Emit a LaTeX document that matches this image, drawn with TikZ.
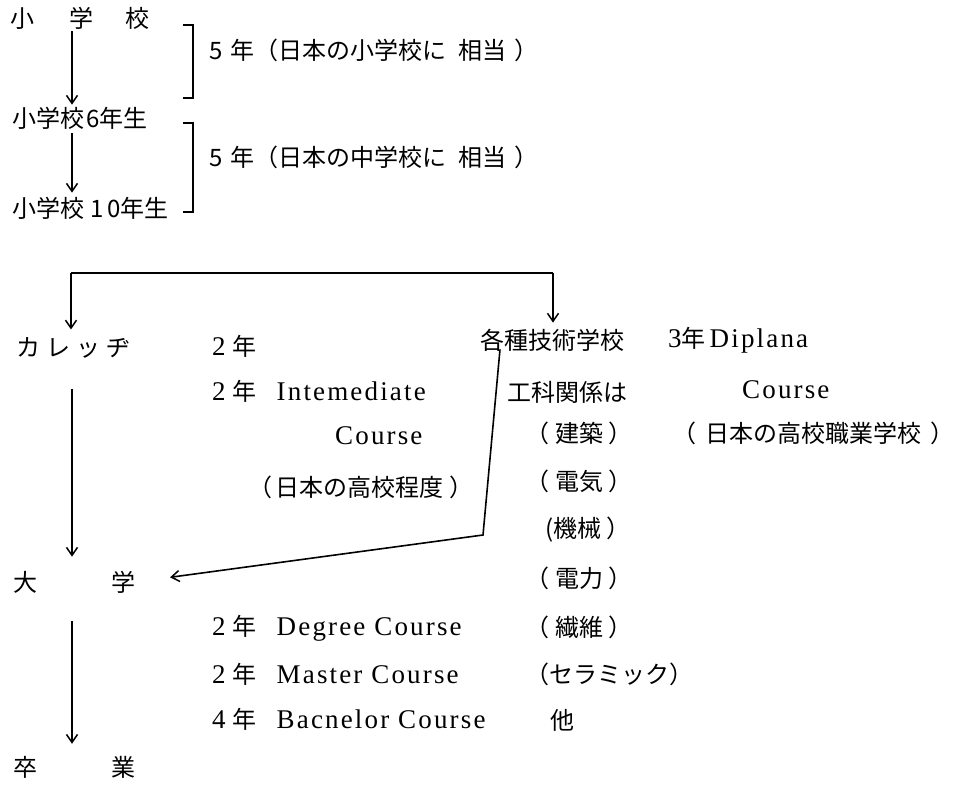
\documentclass[tikz,border=0pt]{standalone}
\usepackage{fontspec}
\setmainfont{Liberation Serif}
\newfontfamily\jp{Noto Sans CJK JP}
\newfontfamily\lat[LetterSpace=8]{Liberation Serif}
\newcommand\la[1]{{\lat\fontsize{27}{27}\selectfont #1}}
\usetikzlibrary{arrows.meta,calc}
\begin{document}
\begin{tikzpicture}[x=1pt,y=-1pt,
  txt/.style={anchor=west,inner sep=0pt,font=\jp\fontsize{24}{24}\selectfont},
  conn/.style={line width=1.6pt,-{Straight Barb[length=8pt,width=11pt,line width=1.5pt]}},
  plain/.style={line width=1.6pt},
  brk/.style={line width=1.6pt}]
\useasboundingbox[fill=white] (0,0) rectangle (961,786);

% upper part
\node[txt] (s1) at (10,18) {小\hspace{35pt}学\hspace{32pt}校};
\node[txt] (s2) at (12,118) {小学校\hspace{2pt}6年生};
\node[txt] (s3) at (12,208) {小学校\hspace{6pt}1\hspace{4pt}0年生};
\coordinate (cx) at (72,0);
\draw[conn] ($(s1.south -| cx)+(0,2)$) -- ($(s2.north -| cx)+(0,-2)$);
\draw[conn] ($(s2.south -| cx)+(0,4)$) -- ($(s3.north -| cx)+(0,-4)$);

\coordinate (b1t) at (193,25);
\coordinate (b1b) at (193,98);
\coordinate (b2t) at (193,123);
\coordinate (b2b) at (193,212);
\draw[brk] ($(b1t)+(-10,0)$) -- (b1t) -- (b1b) -- ($(b1b)+(-10,0)$);
\draw[brk] ($(b2t)+(-10,0)$) -- (b2t) -- (b2b) -- ($(b2b)+(-10,0)$);
\node[txt] (t1) at (209,50) {5\hspace{8pt}年（日本の小学校に\hspace{12pt}相当\hspace{8pt}）};
\node[txt] (t2) at (209,157) {5\hspace{8pt}年（日本の中学校に\hspace{12pt}相当\hspace{8pt}）};

% split
\coordinate (hl) at (71,273);
\coordinate (hr) at (553,273);
\node[txt] (col) at (16,348) {カ\hspace{6pt}レ\hspace{6pt}ッ\hspace{6pt}ヂ};
\node[txt] (tech) at (480,340) {各種技術学校};
\draw[plain] (hl) -- (hr);
\draw[conn] (hl) -- ($(col.north -| hl)+(0,-8)$);
\draw[conn] (hr) -- ($(tech.north -| hr)+(0,-6)$);

% college column
\node[txt] (y2a) at (212,346) {\la{2}\hspace{7pt}年};
\node[txt] (y2b) at (212,391) {\la{2}\hspace{7pt}年\hspace{20pt}\la{Intemediate}};
\node[txt] (c1) at (335,436) {\la{Course}};
\node[txt] (hs) at (248,487) {（\hspace{3pt}日本の高校程度\hspace{6pt}）};

% technical column
\node[txt] (kou) at (507,392) {工科関係は};
\node[txt] (k1) at (525,433) {（\hspace{6pt}建築\hspace{5pt}）};
\node[txt] (k2) at (525,481) {（\hspace{6pt}電気\hspace{5pt}）};
\node[txt] (k3) at (545,530) {(機械\hspace{5pt}）};
\node[txt] (k4) at (525,578) {（\hspace{6pt}電力\hspace{5pt}）};
\node[txt] (k5) at (525,627) {（\hspace{6pt}繊維\hspace{5pt}）};
\node[txt] (k6) at (525,674) {（セラミック）};
\node[txt] (k7) at (550,720) {他};

% diploma
\node[txt] (dip) at (668,340) {\la{3}年\,\la{Diplana}};
\node[txt] (c2) at (742,390) {\la{Course}};
\node[txt] (voc) at (672,433) {（\hspace{9pt}日本の高校職業学校\hspace{9pt}）};

% university
\node[txt] (univ) at (13,582) {大\hspace{74pt}学};
\node[txt] (deg) at (212,628) {\la{2}\hspace{7pt}年\hspace{20pt}\la{Degree Course}};
\node[txt] (mas) at (212,674) {\la{2}\hspace{7pt}年\hspace{20pt}\la{Master Course}};
\node[txt] (bac) at (212,719) {\la{4}\hspace{7pt}年\hspace{20pt}\la{Bacnelor Course}};
\node[txt] (grad) at (13,767) {卒\hspace{74pt}業};

\coordinate (bend) at (483,535);
\draw[conn] ($(col.south -| cx)+(0,30)$) -- ($(univ.north -| cx)+(0,-14)$);
\draw[conn] ($(univ.south -| cx)+(0,28)$) -- ($(grad.north -| cx)+(0,-12)$);
\draw[conn,shorten >=35pt] ($(tech.south west)+(20,-2)$) -- (bend) -- (univ.east);
\end{tikzpicture}
\end{document}
